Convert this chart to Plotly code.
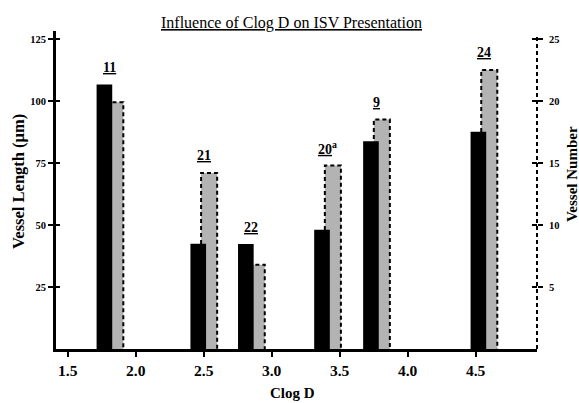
import plotly.graph_objects as go

# ---- data ----
clogd = [1.81, 2.50, 2.85, 3.41, 3.77, 4.56]
compounds = ["11", "21", "22", "20", "9", "24"]
compound_notes = ["", "", "", "a", "", ""]
vessel_length = [106.6, 42.4, 42.3, 48.1, 83.8, 87.6]   # µm, left axis (black)
vessel_number = [19.9, 14.2, 6.8, 14.8, 18.5, 22.5]     # right axis (grey)

x_tickvals = [1.5, 2.0, 2.5, 3.0, 3.5, 4.0, 4.5]
x_ticktext = ["1.5", "2.0", "2.5", "3.0", "3.5", "4.0", "4.5"]
length_ticks = [25, 50, 75, 100, 125]
number_ticks = [5, 10, 15, 20, 25]

# ---- styling / layout constants ----
FONT = "'Times New Roman', 'Liberation Serif', 'DejaVu Serif', serif"
OFF = 0.04
BW_L = 0.115
BW_N = 0.118
LEN_MAX = 128.2
NUM_MAX = LEN_MAX / 5.0
X_RANGE = [1.414, 4.951]
GREY = "#b3b3b3"
DASH = "4px,3px"

xs_len = [c - OFF for c in clogd]
xs_num = [c + OFF for c in clogd]

ox, oy = [], []
for x, v in zip(xs_num, vessel_number):
    ox += [x - BW_N / 2, x - BW_N / 2, x + BW_N / 2, x + BW_N / 2, None]
    oy += [0, v, v, 0, None]

fig = go.Figure()
fig.add_trace(go.Bar(x=xs_num, y=vessel_number, width=BW_N, yaxis="y",
                     marker=dict(color=GREY, line=dict(width=0)),
                     name="Vessel Number"))
fig.add_trace(go.Scatter(x=ox, y=oy, yaxis="y", mode="lines",
                         line=dict(color="black", width=2, dash=DASH),
                         hoverinfo="skip", showlegend=False))
fig.add_trace(go.Bar(x=xs_len, y=vessel_length, width=BW_L, yaxis="y2",
                     marker=dict(color="black", line=dict(width=0)),
                     name="Vessel Length"))
# empty helper traces so the tick-only overlay axes are drawn
fig.add_trace(go.Scatter(x=[None], y=[None], yaxis="y3", showlegend=False))
fig.add_trace(go.Scatter(x=[None], y=[None], yaxis="y4", showlegend=False))

tickfont_small = dict(family=FONT, size=10.5, color="black", weight="bold")
common_y = dict(showgrid=False, zeroline=False, fixedrange=True)

annotations = []
for c, name, note, L, N in zip(clogd, compounds, compound_notes,
                               vessel_length, vessel_number):
    txt = "<b><u>" + name + "</u>" + ("<sup>" + note + "</sup>" if note else "") + "</b>"
    annotations.append(dict(x=c, y=max(L, N * 5), xref="x", yref="y2",
                            text=txt, showarrow=False, yshift=17,
                            xanchor="center", yanchor="middle",
                            font=dict(family=FONT, size=14, color="black")))

annotations += [
    dict(text="<u>Influence of Clog D on ISV Presentation</u>", xref="paper",
         yref="paper", x=0.4886, y=1.025, showarrow=False,
         xanchor="center", yanchor="middle",
         font=dict(family=FONT, size=16, color="black")),
    dict(text="<b>Vessel Length (\u03bcm)</b>", xref="paper", yref="paper",
         x=0, xshift=-38, y=0.525, textangle=-90, showarrow=False,
         xanchor="center", yanchor="middle",
         font=dict(family=FONT, size=16.5, color="black")),
    dict(text="<b>Vessel Number</b>", xref="paper", yref="paper",
         x=1, xshift=35, y=0.55, textangle=-90, showarrow=False,
         xanchor="center", yanchor="middle",
         font=dict(family=FONT, size=15, color="black")),
    dict(text="<b>Clog D</b>", xref="paper", yref="paper",
         x=0.4917, y=-0.138, showarrow=False,
         xanchor="center", yanchor="middle",
         font=dict(family=FONT, size=15, color="black")),
]

fig.update_layout(
    width=579, height=403,
    margin=dict(l=56, r=42, t=31, b=54, pad=0),
    paper_bgcolor="white", plot_bgcolor="white",
    font=dict(family=FONT, color="black"),
    barmode="overlay", showlegend=False,
    xaxis=dict(range=X_RANGE, tickvals=x_tickvals, ticktext=x_ticktext,
               ticks="outside", ticklen=5, tickwidth=1.5, tickcolor="black",
               showline=True, linewidth=3, linecolor="black",
               showgrid=False, zeroline=False, fixedrange=True,
               tickfont=dict(family=FONT, size=15.5, color="black", weight="bold")),
    yaxis=dict(side="right", range=[0, NUM_MAX], tickvals=number_ticks,
               ticks="outside", ticklen=5, tickwidth=1.5, tickcolor="black",
               showline=False, tickfont=tickfont_small, ticklabelstandoff=4,
               **common_y),
    yaxis2=dict(overlaying="y", side="left", range=[0, LEN_MAX],
                tickvals=length_ticks, ticks="outside", ticklen=5,
                tickwidth=1.5, tickcolor="black", showline=True, linewidth=3,
                linecolor="black", tickfont=tickfont_small, **common_y),
    yaxis3=dict(overlaying="y", side="left", range=[0, LEN_MAX],
                tickvals=length_ticks, ticks="inside", ticklen=4,
                tickwidth=1.5, tickcolor="black", showline=False,
                showticklabels=False, **common_y),
    yaxis4=dict(overlaying="y", side="right", range=[0, NUM_MAX],
                tickvals=number_ticks, ticks="inside", ticklen=5,
                tickwidth=1.5, tickcolor="black", showline=False,
                showticklabels=False, **common_y),
    shapes=[dict(type="line", xref="paper", yref="paper", x0=1, x1=1,
                 y0=0, y1=0.984, layer="above",
                 line=dict(color="black", width=2, dash=DASH))],
    annotations=annotations,
)

fig.write_html("out.html")
